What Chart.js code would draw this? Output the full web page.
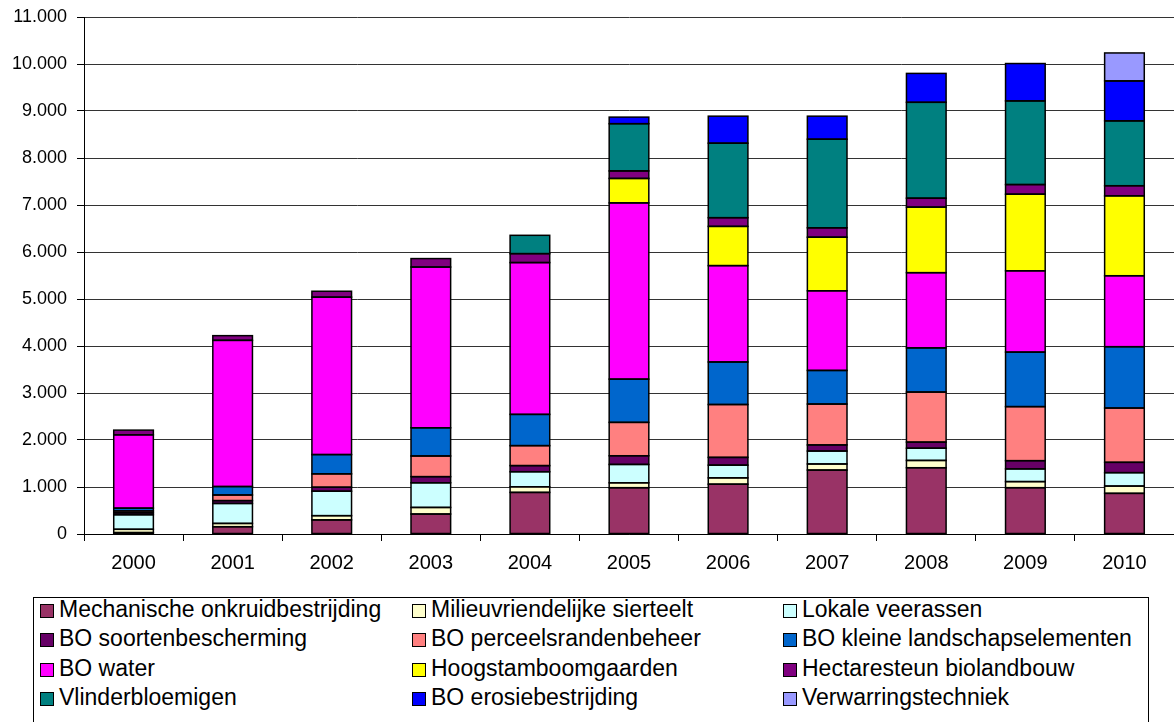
<!DOCTYPE html>
<html lang="nl">
<head>
<meta charset="UTF-8">
<title>Stapeldiagram maatregelen 2000-2010</title>
<script src="https://cdn.jsdelivr.net/npm/chart.js"></script>
<style>
    body {
        margin: 0;
        background: #fff;
        font-family: "Liberation Sans", Arial, sans-serif;
        width: 1174px;
        height: 722px;
        overflow: hidden;
        position: relative;
    }
    .chart-box {
        position: absolute;
        left: 0;
        top: 0;
        width: 1174px;
        height: 590px;
    }
    .legend {
        position: absolute;
        left: 33px;
        top: 597px;
        width: 1116px;
        height: 140px;
        border: 1px solid #000;
        box-sizing: border-box;
    }
    .legend .item {
        position: absolute;
        font-size: 23px;
        line-height: 26px;
        color: #000;
        white-space: nowrap;
    }
    .legend .sw {
        display: inline-block;
        width: 12px;
        height: 12px;
        border: 1px solid #000;
        margin-right: 5px;
        vertical-align: -1px;
    }
</style>
</head>
<body>
<div class="chart-box"><canvas id="chart"></canvas></div>
<div class="legend" id="legend"></div>

<script>
// jaren
const years = ['2000', '2001', '2002', '2003', '2004', '2005', '2006', '2007', '2008', '2009', '2010'];

// waarden per maatregel
const mechanisch   = [30, 155, 300, 425, 885, 985, 1060, 1360, 1410, 985, 865];
const sierteelt    = [70, 70, 90, 140, 120, 105, 135, 130, 155, 130, 155];
const veerassen    = [310, 425, 520, 525, 320, 390, 270, 275, 260, 270, 285];
const soorten      = [40, 60, 85, 130, 130, 185, 165, 130, 130, 175, 220];
const perceelsrand = [40, 120, 285, 440, 425, 710, 1125, 870, 1065, 1150, 1155];
const kleineLandsch = [60, 180, 410, 600, 665, 920, 905, 715, 940, 1160, 1305];
const water        = [1560, 3110, 3350, 3420, 3230, 3750, 2050, 1695, 1600, 1730, 1510];
const hoogstam     = [0, 0, 0, 0, 0, 520, 835, 1140, 1395, 1630, 1700];
const hectaresteun = [100, 100, 125, 180, 190, 160, 185, 200, 190, 205, 215];
const vlinder      = [0, 0, 0, 0, 390, 1005, 1585, 1885, 2040, 1780, 1380];
const erosie       = [0, 0, 0, 0, 0, 140, 575, 490, 615, 795, 850];
const verwarring   = [0, 0, 0, 0, 0, 0, 0, 0, 0, 0, 595];

const seriesNames = [
    'Mechanische onkruidbestrijding', 'Milieuvriendelijke sierteelt', 'Lokale veerassen',
    'BO soortenbescherming', 'BO perceelsrandenbeheer', 'BO kleine landschapselementen',
    'BO water', 'Hoogstamboomgaarden', 'Hectaresteun biolandbouw',
    'Vlinderbloemigen', 'BO erosiebestrijding', 'Verwarringstechniek'
];
const seriesData = [mechanisch, sierteelt, veerassen, soorten, perceelsrand, kleineLandsch,
    water, hoogstam, hectaresteun, vlinder, erosie, verwarring];
const seriesColors = ['#993366', '#FFFFCC', '#CCFFFF', '#660066', '#FF8080', '#0066CC',
    '#FF00FF', '#FFFF00', '#800080', '#008080', '#0000FF', '#9999FF'];

// 11000 -> "11.000"
function formatNL(v) {
    return String(v).replace(/\B(?=(\d{3})+(?!\d))/g, '.');
}

// zwarte rand om elk segment, zoals in Excel
const outlinePlugin = {
    id: 'outline',
    afterDatasetsDraw(chart) {
        const ctx = chart.ctx;
        ctx.save();
        ctx.strokeStyle = '#000';
        ctx.lineWidth = 1.5;
        chart.data.datasets.forEach((ds, i) => {
            chart.getDatasetMeta(i).data.forEach(bar => {
                if (bar.skip || bar.y == null || isNaN(bar.y)) return;
                const h = bar.base - bar.y;
                if (Math.abs(h) < 0.5) return;
                ctx.strokeRect(bar.x - bar.width / 2, bar.y, bar.width, h);
            });
        });
        ctx.restore();
    }
};

const datasets = seriesNames.map((name, i) => ({
    label: name,
    // nul niet tekenen
    data: seriesData[i].map(v => v === 0 ? null : v),
    backgroundColor: seriesColors[i],
    borderWidth: 0,
    inflateAmount: 0,
    barPercentage: 0.4,
    categoryPercentage: 1
}));

const chart = new Chart(document.getElementById('chart'), {
    type: 'bar',
    data: { labels: years, datasets: datasets },
    plugins: [outlinePlugin],
    options: {
        responsive: true,
        maintainAspectRatio: false,
        animation: false,
        layout: { padding: { left: 0, right: 0, top: 17, bottom: 0 } },
        plugins: {
            legend: { display: false },
            tooltip: { enabled: false }
        },
        scales: {
            x: {
                stacked: true,
                border: { color: '#000', width: 1 },
                grid: {
                    offset: true,
                    drawOnChartArea: false,
                    drawTicks: true,
                    tickLength: 7,
                    color: '#000'
                },
                ticks: {
                    color: '#000',
                    padding: 10,
                    font: { family: 'Liberation Sans', size: 20 },
                    maxRotation: 0
                },
                afterFit: s => { s.height = 56; }
            },
            y: {
                stacked: true,
                min: 0,
                max: 11000,
                border: { color: '#000', width: 1 },
                grid: {
                    color: '#333',
                    lineWidth: 1,
                    tickLength: 7,
                    tickColor: '#000'
                },
                ticks: {
                    stepSize: 1000,
                    color: '#000',
                    padding: 10,
                    font: { family: 'Liberation Sans', size: 18 },
                    callback: v => formatNL(v)
                },
                afterFit: s => {
                    s.width = 84;
                    s.paddingTop = 0;
                    s.paddingBottom = 0;
                }
            }
        }
    }
});

// legenda in drie kolommen, zoals in het origineel
const legendEl = document.getElementById('legend');
const colX = [6, 378, 749];
seriesNames.forEach((name, i) => {
    const item = document.createElement('div');
    item.className = 'item';
    item.style.left = colX[i % 3] + 'px';
    item.style.top = (-2 + Math.floor(i / 3) * 29.3) + 'px';
    item.innerHTML = '<span class="sw" style="background:' + seriesColors[i] + '"></span>' + name;
    legendEl.appendChild(item);
});
</script>
</body>
</html>
